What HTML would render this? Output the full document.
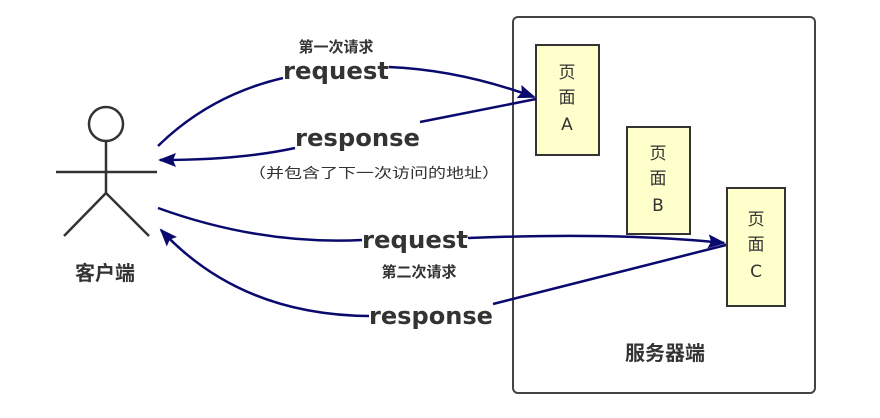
<!DOCTYPE html>
<html><head><meta charset="utf-8"><style>
html,body{margin:0;padding:0;background:#fff;}
svg{display:block;}
text{font-family:"DejaVu Sans","Noto Sans CJK SC",sans-serif;fill:#333;}
</style></head><body>
<svg width="880" height="418" viewBox="0 0 880 418" xmlns="http://www.w3.org/2000/svg">
<defs>
<marker id="ah" markerWidth="18" markerHeight="14" refX="16" refY="7" orient="auto" markerUnits="userSpaceOnUse">
<path d="M0,0 L18,7 L0,14 L3,7 Z" fill="#0a0a6e"/>
</marker>
</defs>
<rect x="513" y="17" width="302" height="376" rx="5" fill="#fff" stroke="#444" stroke-width="2"/>
<rect x="536" y="45" width="63" height="110" fill="#ffffcc" stroke="#333" stroke-width="2"/>
<rect x="627" y="127" width="63" height="107" fill="#ffffcc" stroke="#333" stroke-width="2"/>
<rect x="727" y="188" width="58" height="118" fill="#ffffcc" stroke="#333" stroke-width="2"/>
<g font-size="17" text-anchor="middle">
<text x="567" y="78">页</text><text x="567" y="103">面</text><text x="567" y="130">A</text>
<text x="658" y="159">页</text><text x="658" y="184">面</text><text x="658" y="211">B</text>
<text x="756" y="225">页</text><text x="756" y="250">面</text><text x="756" y="277">C</text>
</g>
<text x="665" y="360" font-size="20" font-weight="bold" text-anchor="middle">服务器端</text>
<g stroke="#333" stroke-width="2.5" fill="none">
<circle cx="106" cy="124" r="17"/>
<line x1="106" y1="141" x2="106" y2="193"/>
<line x1="56" y1="172" x2="157" y2="172"/>
<line x1="106" y1="193" x2="64" y2="236"/>
<line x1="106" y1="193" x2="149" y2="236"/>
</g>
<text x="105" y="280" font-size="20" font-weight="bold" text-anchor="middle">客户端</text>
<g stroke="#0a0a6e" stroke-width="2.5" fill="none">
<path d="M158,146 Q210,95 283,78"/>
<path d="M389,67 Q460,70 534,97" marker-end="url(#ah)"/>
<path d="M536,99 L420,122"/>
<path d="M295,148 Q240,160 160,160" marker-end="url(#ah)"/>
<path d="M158,208 Q260,245 362,240"/>
<path d="M468,238 Q620,232 724,243" marker-end="url(#ah)"/>
<path d="M726,245 L493,304"/>
<path d="M369,316 Q240,315 161,230" marker-end="url(#ah)"/>
</g>
<g font-size="24" font-weight="bold" fill="#333">
<text x="283" y="79" textLength="106" lengthAdjust="spacingAndGlyphs">request</text>
<text x="295" y="146" textLength="125" lengthAdjust="spacingAndGlyphs">response</text>
<text x="362" y="248" textLength="106" lengthAdjust="spacingAndGlyphs">request</text>
<text x="369" y="324" textLength="124" lengthAdjust="spacingAndGlyphs">response</text>
</g>
<text x="336" y="52" font-size="15" font-weight="bold" text-anchor="middle">第一次请求</text>
<text x="419" y="277" font-size="15" font-weight="bold" text-anchor="middle">第二次请求</text>
<text x="248" y="178" font-size="14" fill="#444" textLength="252" lengthAdjust="spacingAndGlyphs">（并包含了下一次访问的地址）</text>
</svg>
</body></html>
